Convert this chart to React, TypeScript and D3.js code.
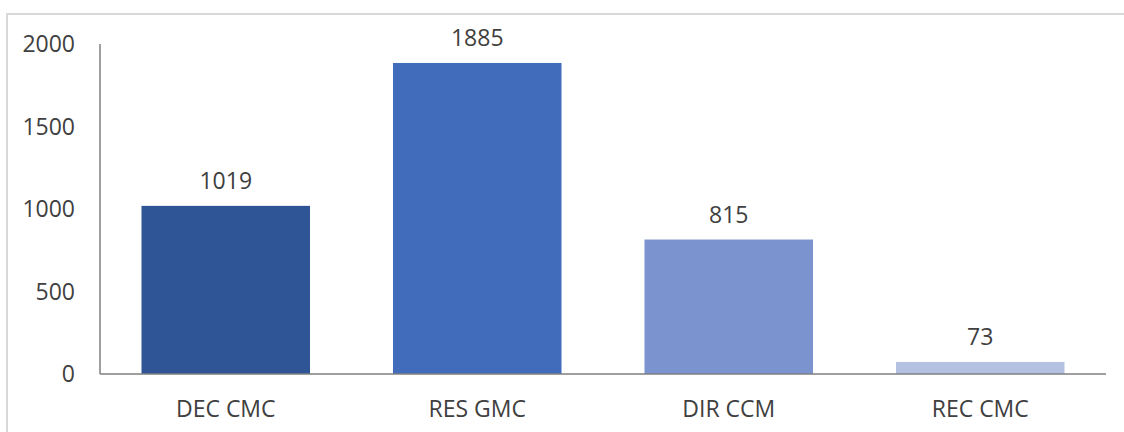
import { useEffect, useRef } from "react";
import * as d3 from "d3";

const categories = ["DEC CMC", "RES GMC", "DIR CCM", "REC CMC"];
const values = [1019, 1885, 815, 73];
const barColors = ["#2F5597", "#416BBB", "#7B93CF", "#B4C1E1"];
const yTicks = [0, 500, 1000, 1500, 2000];

export default function App() {
  const svgRef = useRef<SVGSVGElement>(null);

  useEffect(() => {
    if (!svgRef.current) return;
    const svg = d3.select(svgRef.current);
    svg.selectAll("*").remove();

    const width = 1124;
    const height = 432;
    const margin = { top: 44, right: 18, bottom: 58, left: 100 };
    const font = "'Open Sans', 'Noto Sans', sans-serif";
    const textColor = "#404040";
    const fontSize = 23;

    // chart area border
    svg
      .append("rect")
      .attr("x", 7)
      .attr("y", 14)
      .attr("width", width)
      .attr("height", height)
      .attr("fill", "#fff")
      .attr("stroke", "#d9d9d9")
      .attr("stroke-width", 2);

    const x = d3
      .scaleBand()
      .domain(categories)
      .range([margin.left, width - margin.right])
      .paddingInner(0.33)
      .paddingOuter(0.165);

    const y = d3
      .scaleLinear()
      .domain([0, 2000])
      .range([height - margin.bottom, margin.top]);

    const g = svg.append("g");

    // bars
    g.selectAll(".bar")
      .data(values)
      .enter()
      .append("rect")
      .attr("class", "bar")
      .attr("x", (_d, i) => x(categories[i])!)
      .attr("y", (d) => y(d))
      .attr("width", x.bandwidth())
      .attr("height", (d) => y(0) - y(d))
      .attr("fill", (_d, i) => barColors[i]);

    // value labels
    g.selectAll(".val")
      .data(values)
      .enter()
      .append("text")
      .attr("class", "val")
      .attr("x", (_d, i) => x(categories[i])! + x.bandwidth() / 2)
      .attr("y", (d) => y(d) - 17)
      .attr("text-anchor", "middle")
      .attr("font-family", font)
      .attr("font-size", fontSize)
      .attr("fill", textColor)
      .text((d) => d);

    // axes lines
    g.append("line")
      .attr("x1", margin.left)
      .attr("x2", margin.left)
      .attr("y1", y(2000))
      .attr("y2", y(0))
      .attr("stroke", "#7f7f7f")
      .attr("stroke-width", 1.5);

    g.append("line")
      .attr("x1", margin.left)
      .attr("x2", width - margin.right)
      .attr("y1", y(0))
      .attr("y2", y(0))
      .attr("stroke", "#7f7f7f")
      .attr("stroke-width", 1.5);

    // y tick labels
    g.selectAll(".ytick")
      .data(yTicks)
      .enter()
      .append("text")
      .attr("class", "ytick")
      .attr("x", 75)
      .attr("y", (d) => y(d) + 8)
      .attr("text-anchor", "end")
      .attr("font-family", font)
      .attr("font-size", fontSize)
      .attr("fill", textColor)
      .text((d) => d);

    // category labels
    g.selectAll(".xtick")
      .data(categories)
      .enter()
      .append("text")
      .attr("class", "xtick")
      .attr("x", (d) => x(d)! + x.bandwidth() / 2)
      .attr("y", y(0) + 43)
      .attr("text-anchor", "middle")
      .attr("font-family", font)
      .attr("font-size", fontSize)
      .attr("fill", textColor)
      .text((d) => d);
  }, []);

  return (
    <div style={{ position: "absolute", left: 0, top: 0 }}>
      <svg ref={svgRef} width={1124} height={432} style={{ display: "block" }}></svg>
    </div>
  );
}
